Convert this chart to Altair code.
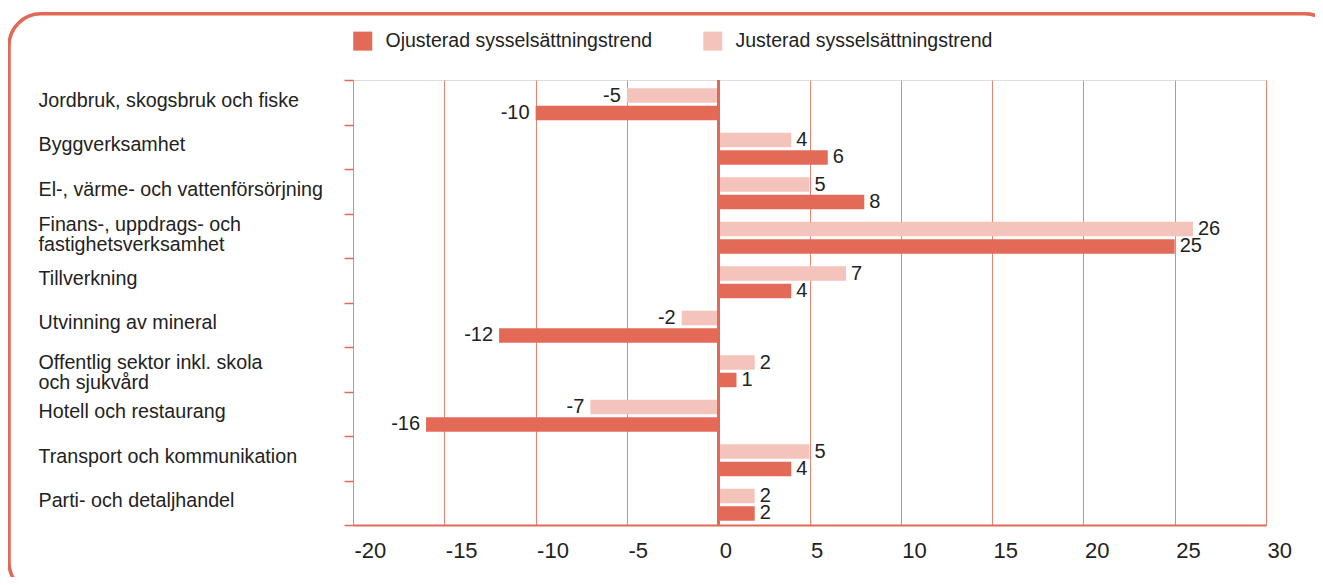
import altair as alt
import pandas as pd

categories = [
    "Jordbruk, skogsbruk och fiske",
    "Byggverksamhet",
    "El-, värme- och vattenförsörjning",
    "Finans-, uppdrags- och|fastighetsverksamhet",
    "Tillverkning",
    "Utvinning av mineral",
    "Offentlig sektor inkl. skola|och sjukvård",
    "Hotell och restaurang",
    "Transport och kommunikation",
    "Parti- och detaljhandel",
]
ojusterad = [-10, 6, 8, 25, 4, -12, 1, -16, 4, 2]
justerad = [-5, 4, 5, 26, 7, -2, 2, -7, 5, 2]
series_names = ["Ojusterad sysselsättningstrend", "Justerad sysselsättningstrend"]
x_ticks = [-20, -15, -10, -5, 0, 5, 10, 15, 20, 25, 30]

rows = []
for c, o, j in zip(categories, ojusterad, justerad):
    rows.append({"cat": c, "serie": series_names[0], "value": o})
    rows.append({"cat": c, "serie": series_names[1], "value": j})
df = pd.DataFrame(rows)

DARK = "#e36a57"
LIGHT = "#f4c3bc"
LINE = "#e06a55"
GRID = "#e98572"
TXT = "#222222"
FONT = "Liberation Sans"

y_enc = alt.Y(
    "cat:N",
    sort=categories,
    scale=alt.Scale(paddingInner=0, paddingOuter=0),
    axis=alt.Axis(
        title=None,
        labelExpr="split(datum.label, '|')",
        labelAlign="left",
        labelPadding=306,
        labelLimit=400,
        labelFont=FONT,
        labelFontSize=19.7,
        labelColor=TXT,
        labelLineHeight=20,
        labelOffset={
            "condition": [
                {"test": "indexof(datum.label, 'Finans') >= 0", "value": -11},
                {"test": "indexof(datum.label, 'Offentlig') >= 0", "value": -7},
            ],
            "value": -2,
        },
        tickBand="extent",
        tickSize=9,
        tickColor=LINE,
        tickWidth=1.5,
        domain=False,
        grid=False,
    ),
)
yoff_enc = alt.YOffset(
    "serie:N",
    sort=[series_names[1], series_names[0]],
    scale=alt.Scale(paddingInner=0.17, paddingOuter=0.36, align=0.66),
)
x_enc = alt.X(
    "value:Q",
    scale=alt.Scale(domain=[-20, 30], nice=False, zero=False),
    axis=alt.Axis(
        title=None,
        values=x_ticks,
        labelExpr="'' + datum.value",
        grid=True,
        gridColor=GRID,
        gridWidth=1,
        domain=True,
        domainColor=LINE,
        domainWidth=2,
        ticks=False,
        labelFont=FONT,
        labelFontSize=22,
        labelColor=TXT,
        labelAlign="left",
        labelOffset=1,
        labelPadding=15,
    ),
)

base = alt.Chart(df).transform_calculate(lab="'' + datum.value")

bars = base.mark_bar().encode(
    y=y_enc,
    yOffset=yoff_enc,
    x=x_enc,
    color=alt.Color(
        "serie:N",
        scale=alt.Scale(domain=series_names, range=[DARK, LIGHT]),
        legend=alt.Legend(
            title=None,
            orient="none",
            legendX=0,
            legendY=-49,
            direction="horizontal",
            symbolType="square",
            symbolSize=361,
            symbolStrokeWidth=0,
            symbolOpacity=1,
            labelFont=FONT,
            labelFontSize=19.5,
            labelColor=TXT,
            labelOffset=13,
            columnPadding=50,
            labelLimit=400,
        ),
    ),
)

txt_pos = base.transform_filter("datum.value > 0").mark_text(
    align="left", baseline="middle", dx=5, font=FONT, fontSize=20, color=TXT
).encode(y=alt.Y("cat:N", sort=categories), yOffset=yoff_enc, x="value:Q", text="lab:N")

txt_neg = base.transform_filter("datum.value < 0").mark_text(
    align="right", baseline="middle", dx=-6, font=FONT, fontSize=20, color=TXT
).encode(y=alt.Y("cat:N", sort=categories), yOffset=yoff_enc, x="value:Q", text="lab:N")

zero_rule = base.mark_rule(color=LINE, strokeWidth=2).encode(x=alt.datum(0))

border = alt.Chart(alt.Data(values=[{"a": 1}])).mark_rect(
    cornerRadius=32, fillOpacity=0, fill="white", stroke=LINE, strokeWidth=3.5
).encode(
    x=alt.value(-344), x2=alt.value(984), y=alt.value(-66.2), y2=alt.value(514)
)

chart = (
    alt.layer(bars, txt_pos, txt_neg, zero_rule, border)
    .properties(
        width=913,
        height=445,
        autosize=alt.AutoSizeParams(type="none"),
        padding={"left": 345, "top": 72, "right": 49, "bottom": 52},
    )
    .configure_view(stroke=None)
    .configure(background="white")
)

chart.save("out.html", embed_options={"renderer": "svg", "actions": False})
